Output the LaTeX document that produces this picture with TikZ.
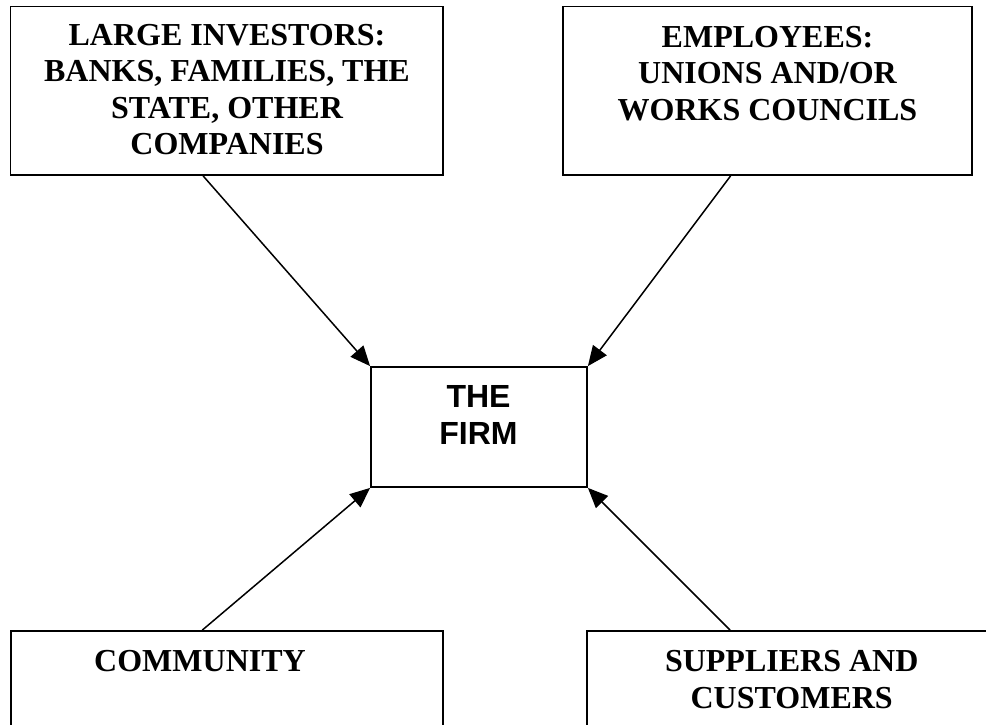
\documentclass[tikz,border=0pt]{standalone}
\usepackage{fontspec}
\setmainfont{Liberation Serif}
\newfontfamily\arialfont{Liberation Sans}
\usetikzlibrary{arrows.meta}
\tikzset{
  box/.style={draw=black, line width=1.8pt, rectangle, inner sep=0pt},
  boxtext/.style={align=center, inner sep=0pt, font=\fontsize{32}{36.5}\selectfont\bfseries},
  firmtext/.style={align=center, inner sep=0pt, font=\fontsize{32}{36.5}\selectfont\arialfont\bfseries},
  link/.style={line width=1.5pt, -{Triangle[length=20pt,width=17pt]}, shorten >=0pt}
}
\begin{document}
\begin{tikzpicture}[x=1pt,y=-1pt]
\useasboundingbox (0,0) rectangle (986,724);
\clip (0,0) rectangle (986,724);
\fill[white] (0,0) rectangle (986,724);
% boxes
\node[box, minimum width=432.5pt, minimum height=168.5pt] (li) at (226.75,90.75) {};
\node[box, minimum width=409pt, minimum height=168.5pt] (emp) at (767.5,90.75) {};
\node[box, minimum width=216pt, minimum height=120pt] (firm) at (479,427) {};
\node[box, minimum width=432.3pt, minimum height=129pt] (comm) at (226.85,695.5) {};
\node[box, minimum width=413pt, minimum height=129pt] (supp) at (793.5,695.5) {};
% texts
\node[boxtext] (litext) at (227,89.5) {LARGE INVESTORS:\\BANKS, FAMILIES, THE\\STATE, OTHER\\COMPANIES};
\node[boxtext] (emptext) at (767.5,73.5) {EMPLOYEES:\\UNIONS AND/OR\\WORKS COUNCILS};
\node[firmtext] (firmtext) at (478.5,415) {THE\\FIRM};
\node[boxtext] (commtext) at (200,661) {COMMUNITY};
\node[boxtext] (supptext) at (791.7,679.5) {SUPPLIERS AND\\CUSTOMERS};
% connectors
\coordinate (a1) at ([xshift=193.5pt]li.south west);
\coordinate (a2) at ([xshift=168.5pt]emp.south west);
\coordinate (a3) at ([xshift=192.5pt]comm.north west);
\coordinate (a4) at ([xshift=144pt]supp.north west);
\draw[link] (a1) -- (firm.north west);
\draw[link] (a2) -- (firm.north east);
\draw[link] (a3) -- (firm.south west);
\draw[link] (a4) -- (firm.south east);
\end{tikzpicture}
\end{document}
